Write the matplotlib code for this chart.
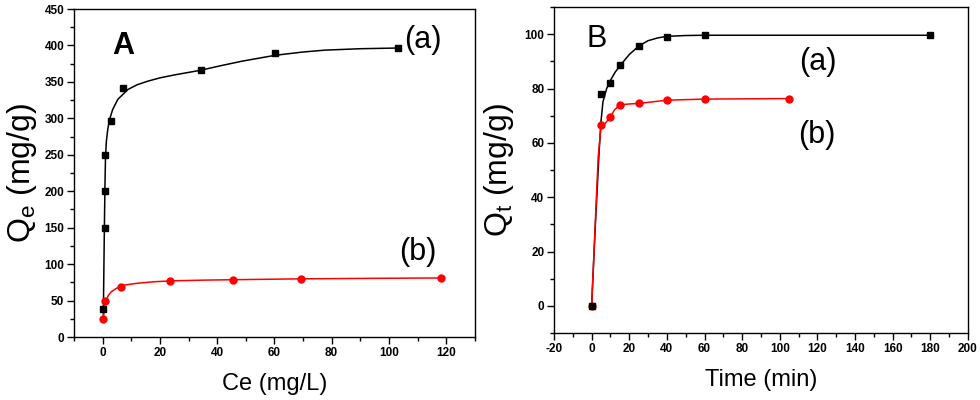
import matplotlib.pyplot as plt
from matplotlib.ticker import MultipleLocator

plt.rcParams['font.family'] = ['Liberation Sans', 'DejaVu Sans']
plt.rcParams['font.weight'] = 'bold'  # tick labels are bold in the original
plt.rcParams['axes.unicode_minus'] = False

# Panel A: isotherm data
ce_a = [0.0, 0.7, 0.7, 0.9, 2.8, 7.1, 34.3, 60.2, 103.2]
qe_a = [38, 149, 200, 250, 297, 342, 366, 389, 396]
ce_b = [0.2, 1.0, 6.3, 23.7, 45.7, 69.3, 118.3]
qe_b = [25, 49, 69, 76.5, 78.6, 79.8, 81]

# fitted curves
fit_ce_a = [0.25, 0.4, 0.55, 0.7, 0.85, 1.0, 1.3, 1.8, 2.4, 3.5, 5.3, 8.8, 12, 15.8, 20, 25, 34.3, 41, 48.8, 60.3, 70, 77.8, 90, 103.5]
fit_qe_a = [30, 80, 130, 175, 215, 245, 268, 285, 298, 312, 326, 339.5, 346, 351, 355.5, 359.5, 366, 372, 378.5, 386.5, 391, 393.6, 395.5, 396.5]
fit_ce_b = [0.3, 0.6, 1.0, 1.3, 2, 3, 4.5, 5.9, 8, 12.3, 18, 23.7, 35, 45.7, 69.3, 95, 118.3]
fit_qe_b = [28, 38, 48, 51, 57, 62, 66, 69, 71.5, 73.8, 75.8, 77, 78, 78.6, 79.8, 80.5, 81]

# Panel B: kinetics data
t_a = [0, 5, 10, 15, 25, 40, 60, 180]
qt_a = [0, 77.8, 82, 88.5, 95.5, 99.1, 99.6, 99.6]
t_b = [0, 5, 10, 15, 25, 40, 60, 105]
qt_b = [0, 66.4, 69.5, 73.9, 74.5, 75.7, 76.1, 76.3]

fit_t_a = [0, 2, 4, 5, 6, 8, 10, 12.5, 15, 20, 25, 30, 35, 40, 50, 60, 180]
fit_qt_a = [0, 30, 57, 68, 75, 80, 83, 86, 88.3, 92.5, 95.6, 97.6, 98.6, 99.2, 99.5, 99.6, 99.6]
line_t_b = [0, 3.5, 5, 7, 10, 12, 15, 20, 25, 40, 60, 105]
line_qt_b = [0, 55, 66, 67, 69.5, 72, 74, 74.3, 74.5, 75.7, 76.1, 76.3]

fig = plt.figure(figsize=(9.8, 4.0), dpi=100)
ax1 = fig.add_axes([0.0755, 0.1575, 0.409, 0.82])
ax2 = fig.add_axes([0.5653, 0.1675, 0.4224, 0.815])


def style(ax):
    ax.tick_params(which='major', direction='out', length=5, width=1, labelsize=8.5, pad=2)
    ax.tick_params(which='minor', direction='out', length=3, width=1)
    for sp in ax.spines.values():
        sp.set_linewidth(1.0)


big = dict(fontsize=22, fontweight='normal', ha='center', va='center')

ax1.plot(fit_ce_a, fit_qe_a, color='black', lw=1.1)
ax1.plot(fit_ce_b, fit_qe_b, color='red', lw=1.1)
ax1.plot(ce_a, qe_a, 's', color='black', ms=4.5, ls='none')
ax1.plot(ce_b, qe_b, 'o', color='red', ms=5, ls='none')
ax1.set_xlim(-10, 130)
ax1.set_ylim(0, 450)
ax1.xaxis.set_major_locator(MultipleLocator(20))
ax1.xaxis.set_minor_locator(MultipleLocator(10))
ax1.yaxis.set_major_locator(MultipleLocator(50))
ax1.yaxis.set_minor_locator(MultipleLocator(25))
style(ax1)
ax1.set_xlabel('Ce (mg/L)', fontsize=17, fontweight='normal', labelpad=10)
ax1.set_ylabel('Q$_\\mathregular{e}$ (mg/g)', fontsize=23, fontweight='normal', labelpad=4)
ax1.text(7.3, 399, 'A', fontsize=22, fontweight='bold', ha='center', va='center')
ax1.text(112, 408, '(a)', **big)
ax1.text(110, 117, '(b)', **big)

ax2.plot(fit_t_a, fit_qt_a, color='black', lw=1.1)
ax2.plot(line_t_b, line_qt_b, color='red', lw=1.1)
ax2.plot(t_b, qt_b, 'o', color='red', ms=5, ls='none')
ax2.plot(t_a, qt_a, 's', color='black', ms=4.5, ls='none')
ax2.set_xlim(-20, 200)
ax2.set_ylim(-10, 110)
ax2.xaxis.set_major_locator(MultipleLocator(20))
ax2.xaxis.set_minor_locator(MultipleLocator(10))
ax2.yaxis.set_major_locator(MultipleLocator(20))
ax2.yaxis.set_minor_locator(MultipleLocator(10))
style(ax2)
ax2.set_xlabel('Time (min)', fontsize=17, fontweight='normal', labelpad=10)
ax2.set_ylabel('Q$_\\mathregular{t}$ (mg/g)', fontsize=23, fontweight='normal', labelpad=6)
ax2.text(2.8, 98.3, 'B', **big)
ax2.text(120.3, 89.7, '(a)', **big)
ax2.text(119.7, 62.8, '(b)', **big)

plt.savefig('out.png', dpi=100)
